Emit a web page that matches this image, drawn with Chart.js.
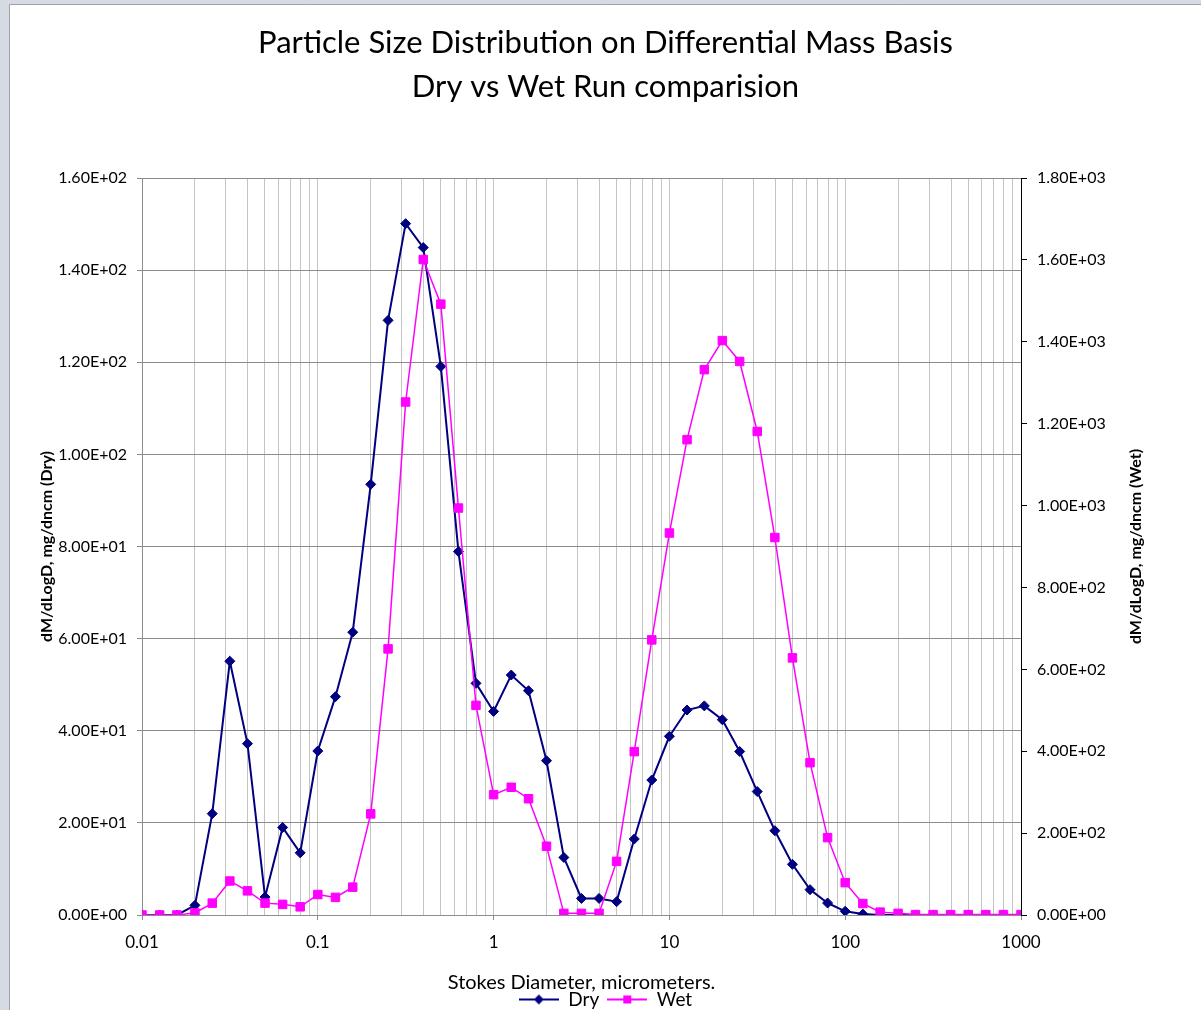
<!DOCTYPE html>
<html>
<head>
<meta charset="utf-8">
<title>Particle Size Distribution</title>
<script src="https://cdn.jsdelivr.net/npm/chart.js@4.4.1/dist/chart.umd.min.js"></script>
<style>
    html, body { margin: 0; padding: 0; background: #d6dbe3; }
    #wrap { width: 1201px; height: 1010px; }
</style>
</head>
<body>
<div id="wrap"><canvas id="psd" width="1201" height="1010"></canvas></div>
<script>
// Stokes diameters, micrometers (10 points per decade)
const diameters = [
    0.01, 0.0126, 0.0158, 0.02, 0.0251, 0.0316, 0.0398, 0.0501, 0.0631, 0.0794,
    0.1, 0.126, 0.158, 0.2, 0.251, 0.316, 0.398, 0.501, 0.631, 0.794,
    1, 1.26, 1.58, 2, 2.51, 3.16, 3.98, 5.01, 6.31, 7.94,
    10, 12.6, 15.8, 20, 25.1, 31.6, 39.8, 50.1, 63.1, 79.4,
    100, 126, 158, 200, 251, 316, 398, 501, 631, 794, 1000
];

// dM/dLogD, mg/dncm
const dryValues = [
    0, 0, 0, 2.1, 22.0, 55.1, 37.2, 3.9, 19.0, 13.5,
    35.6, 47.4, 61.4, 93.5, 129.1, 150.1, 144.9, 119.1, 78.9, 50.3,
    44.2, 52.1, 48.7, 33.5, 12.5, 3.6, 3.6, 2.9, 16.5, 29.3,
    38.8, 44.5, 45.4, 42.4, 35.5, 26.8, 18.3, 11.0, 5.5, 2.6,
    0.8, 0.2, 0, 0, 0, 0, 0, 0, 0, 0, 0
];
const wetValues = [
    0, 0, 0, 5, 29, 83, 59, 29, 26, 20,
    50, 43, 68, 247, 650, 1253, 1601, 1492, 994, 512,
    294, 312, 284, 168, 4, 4, 4, 131, 399, 672,
    933, 1161, 1332, 1403, 1352, 1181, 922, 628, 372, 189,
    79, 28, 7, 4, 1, 1, 1, 1, 1, 1, 1
];

// Axis ticks
const xMajorTicks = [0.01, 0.1, 1, 10, 100, 1000];
const xTickLabels = ['0.01', '0.1', '1', '10', '100', '1000'];
const dryMax = 160, dryStep = 20;
const wetMax = 1800, wetStep = 200;

const titleLines = ['Particle Size Distribution on Differential Mass Basis', 'Dry vs Wet Run comparision'];
const xTitle = 'Stokes Diameter, micrometers.';
const dryTitle = 'dM/dLogD, mg/dncm (Dry)';
const wetTitle = 'dM/dLogD, mg/dncm (Wet)';

const dryColor = '#000080';
const wetColor = '#ff00ff';
const FONT = 'Lato, "Liberation Sans", sans-serif';
const legendShift = 9;   // legend sits a bit lower than Chart.js puts it

// "1.60E+02" style labels
function sci(v) {
    const parts = Number(v).toExponential(2).toUpperCase().split('E');
    const sign = parts[1][0];
    let exp = parts[1].slice(1);
    if (exp.length < 2) exp = '0' + exp;
    return parts[0] + 'E' + sign + exp;
}

// small legend swatch: line with marker in the middle
function swatch(color, shape) {
    const c = document.createElement('canvas');
    c.width = 40;
    c.height = 14;
    const g = c.getContext('2d');
    g.strokeStyle = color;
    g.lineWidth = 2;
    g.beginPath();
    g.moveTo(0, 7);
    g.lineTo(40, 7);
    g.stroke();
    g.fillStyle = color;
    g.beginPath();
    if (shape === 'diamond') {
        g.moveTo(20, 2); g.lineTo(25, 7); g.lineTo(20, 12); g.lineTo(15, 7);
    } else {
        g.rect(16, 3, 8, 8);
    }
    g.closePath();
    g.fill();
    return c;
}

// white chart panel on the grey window
const panel = {
    id: 'panel',
    beforeDraw(chart) {
        const ctx = chart.ctx;
        ctx.save();
        ctx.fillStyle = '#d6dbe3';
        ctx.fillRect(0, 0, chart.width, chart.height);
        ctx.fillStyle = '#ffffff';
        ctx.fillRect(10, 5, chart.width - 10, chart.height - 5);
        ctx.strokeStyle = '#9da2aa';
        ctx.lineWidth = 1;
        ctx.beginPath();
        ctx.moveTo(9.5, chart.height);
        ctx.lineTo(9.5, 4.5);
        ctx.lineTo(chart.width, 4.5);
        ctx.stroke();
        ctx.restore();
    }
};

// right axis title, reading bottom-to-top like the left one
const rightTitle = {
    id: 'rightTitle',
    afterDraw(chart) {
        const ctx = chart.ctx;
        const area = chart.chartArea;
        ctx.save();
        ctx.translate(1136, (area.top + area.bottom) / 2);
        ctx.rotate(-Math.PI / 2);
        ctx.font = 'bold 16px ' + FONT;
        ctx.fillStyle = '#000';
        ctx.textAlign = 'center';
        ctx.textBaseline = 'middle';
        ctx.fillText(wetTitle, 0, 0);
        ctx.restore();
    }
};

const ctx = document.getElementById('psd').getContext('2d');

new Chart(ctx, {
    type: 'line',
    data: {
        datasets: [{
            label: 'Dry',
            data: diameters.map((d, i) => ({ x: d, y: dryValues[i] })),
            yAxisID: 'y',
            order: 1,
            borderColor: dryColor,
            backgroundColor: dryColor,
            borderWidth: 2,
            pointStyle: 'rectRot',
            pointRadius: 5,
            pointBorderWidth: 1,
            tension: 0
        }, {
            label: 'Wet',
            data: diameters.map((d, i) => ({ x: d, y: wetValues[i] })),
            yAxisID: 'y1',
            order: 0,
            borderColor: wetColor,
            backgroundColor: wetColor,
            borderWidth: 1.5,
            pointStyle: 'rect',
            pointRadius: 6,
            pointBorderWidth: 1,
            tension: 0
        }]
    },
    options: {
        responsive: false,
        animation: false,
        layout: { padding: { left: 10, top: 5, right: 0, bottom: -legendShift } },
        scales: {
            x: {
                type: 'logarithmic',
                min: 0.01,
                max: 1000,
                afterBuildTicks(scale) {
                    const ticks = [];
                    for (let i = 0; i < xMajorTicks.length - 1; i++) {
                        for (let k = 1; k < 10; k++) {
                            ticks.push({ value: xMajorTicks[i] * k });
                        }
                    }
                    ticks.push({ value: xMajorTicks[xMajorTicks.length - 1] });
                    scale.ticks = ticks;
                },
                afterFit(scale) {
                    const legendH = scale.chart.legend ? scale.chart.legend.height : 0;
                    scale.height = 1010 + legendShift - 915 - legendH;
                },
                grid: {
                    color: '#c4c4c4',
                    lineWidth: 1,
                    tickLength: 5,
                    tickColor: (c) => (c.tick && xMajorTicks.includes(c.tick.value)) ? '#8c8c8c' : 'rgba(0,0,0,0)'
                },
                border: { color: '#8c8c8c' },
                ticks: {
                    autoSkip: false,
                    maxRotation: 0,
                    padding: 12,
                    color: '#000',
                    font: { family: FONT, size: 17 },
                    callback(value) {
                        const idx = xMajorTicks.indexOf(value);
                        return idx >= 0 ? xTickLabels[idx] : '';
                    }
                },
                title: {
                    display: true,
                    text: xTitle,
                    color: '#000',
                    font: { family: FONT, size: 20, lineHeight: 0.8 },
                    padding: { top: 0, bottom: -9 }
                }
            },
            y: {
                position: 'left',
                min: 0,
                max: dryMax,
                afterFit(scale) { scale.width = 132; },
                grid: { color: '#8c8c8c', tickLength: 5, tickColor: '#8c8c8c' },
                border: { color: '#8c8c8c' },
                ticks: {
                    stepSize: dryStep,
                    padding: 10,
                    color: '#000',
                    font: { family: FONT, size: 16 },
                    callback: (v) => sci(v)
                },
                title: {
                    display: true,
                    text: dryTitle,
                    color: '#000',
                    font: { family: FONT, size: 16, weight: 'bold', lineHeight: 1.2 },
                    padding: { top: 27, bottom: 0 }
                }
            },
            y1: {
                position: 'right',
                min: 0,
                max: wetMax,
                afterFit(scale) { scale.width = 180; },
                grid: { drawOnChartArea: false, tickLength: 6, tickColor: '#000' },
                border: { color: '#000' },
                ticks: {
                    stepSize: wetStep,
                    padding: 10,
                    color: '#000',
                    font: { family: FONT, size: 16 },
                    callback: (v) => sci(v)
                }
            }
        },
        plugins: {
            title: {
                display: true,
                text: titleLines,
                color: '#000',
                font: { family: FONT, size: 31, weight: 'normal', lineHeight: 1.42 },
                padding: { top: 16, bottom: 69 }
            },
            legend: {
                position: 'bottom',
                labels: {
                    usePointStyle: true,
                    pointStyleWidth: 40,
                    padding: 8,
                    color: '#000',
                    font: { family: FONT, size: 19 },
                    sort: (a, b) => a.datasetIndex - b.datasetIndex,
                    generateLabels(chart) {
                        return chart.data.datasets.map((ds, i) => ({
                            text: ds.label,
                            datasetIndex: i,
                            pointStyle: swatch(ds.borderColor, i === 0 ? 'diamond' : 'square'),
                            fillStyle: ds.borderColor,
                            strokeStyle: ds.borderColor,
                            lineWidth: 0,
                            hidden: false
                        }));
                    }
                }
            },
            tooltip: { enabled: false }
        }
    },
    plugins: [panel, rightTitle]
});
</script>
</body>
</html>
